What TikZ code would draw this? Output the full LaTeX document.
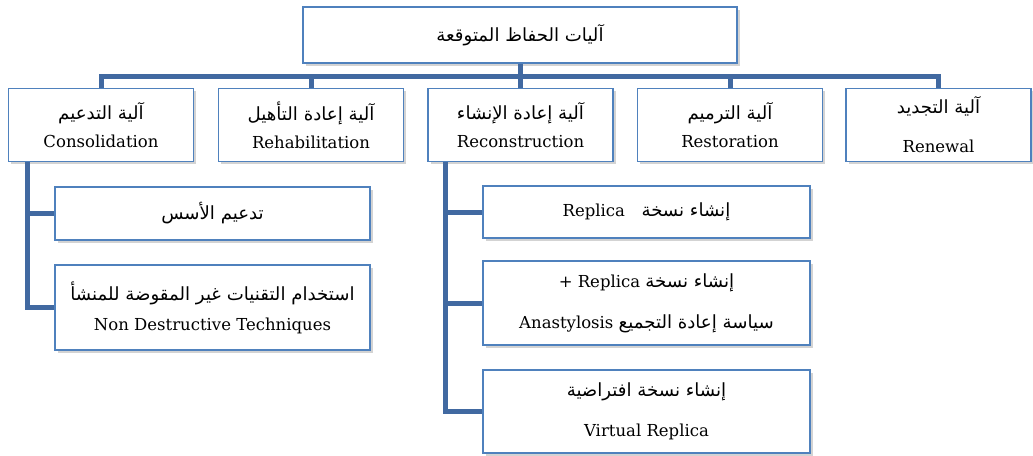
\documentclass[tikz,border=0pt]{standalone}
\usepackage{fontspec}
\setmainfont{DejaVu Serif}
\newfontfamily\arabicfont[Script=Arabic,Scale=1.1]{DejaVu Sans}
\TeXXeTstate=1
\newcommand{\artxt}[1]{{\arabicfont\beginR #1\endR}}
\usetikzlibrary{shadows}
\definecolor{boxblue}{RGB}{79,129,189}
\definecolor{linkblue}{RGB}{65,105,161}

\begin{document}
\begin{tikzpicture}[x=1pt, y=-1pt,
    box/.style={draw=boxblue, line width=1.8pt, fill=white, align=center, inner sep=0pt,
        font=\fontsize{16.5}{28}\selectfont,
        drop shadow={opacity=0.35, shadow xshift=2.5pt, shadow yshift=-2.5pt}},
    lvl/.style={box, minimum width=185pt, minimum height=73pt},
    col/.style={box, minimum width=315pt},
    sub/.style={box, minimum width=327pt},
    link/.style={draw=linkblue, line width=5pt, line join=miter}]
    \useasboundingbox (0,0) rectangle (1033,455);
    % top
    \node[box, minimum width=434pt, minimum height=56pt](top)at(520,35){\artxt{آليات الحفاظ المتوقعة}};
    % mechanisms
    \node[lvl](cons)at(101,125){\artxt{آلية التدعيم}\\ Consolidation};
    \node[lvl](rehab)at(311,125){\artxt{آلية إعادة التأهيل}\\ Rehabilitation};
    \node[lvl](recon)at(520.5,125){\artxt{آلية إعادة الإنشاء}\\ Reconstruction};
    \node[lvl](resto)at(730,125){\artxt{آلية الترميم}\\ Restoration};
    \node[lvl](renew)at(938.5,125){\artxt{آلية التجديد}\\[11pt] Renewal};
    % consolidation
    \node[col, minimum height=53pt](found)at(212.5,213.5){\artxt{تدعيم الأسس}};
    \node[col, minimum height=85pt](tech)at(212.5,307.5){\artxt{استخدام التقنيات غير المقوضة للمنشأ}\\[2pt] Non Destructive Techniques};
    % reconstruction
    \node[sub, minimum height=52pt](rep)at(646.5,212){Replica\quad\artxt{إنشاء نسخة}};
    \node[sub, minimum height=84pt](anas)at(646.5,303){+ Replica \artxt{إنشاء نسخة}\\[13pt] Anastylosis \artxt{سياسة إعادة التجميع}};
    \node[sub, minimum height=83pt](virt)at(646.5,411.5){\artxt{إنشاء نسخة افتراضية}\\[12pt] Virtual Replica};

    \coordinate(bar)at(0,76);
    \draw[link](cons.north)|-(renew.north|-bar)--(renew.north);
    \draw[link](top.south)--(top.south|-bar);
    \foreach \n in {rehab,recon,resto}
        \draw[link](\n.north)--(\n.north|-bar);
    \coordinate(lsp)at([xshift=-74pt]cons.south);
    \draw[link](lsp)|-(tech.west);
    \draw[link](found.west)--(found.west-|lsp);
    \coordinate(rsp)at([xshift=-75.5pt]recon.south);
    \draw[link](rsp)|-(virt.west);
    \draw[link](rep.west)--(rep.west-|rsp)
        (anas.west)--(anas.west-|rsp);
\end{tikzpicture}
\end{document}
